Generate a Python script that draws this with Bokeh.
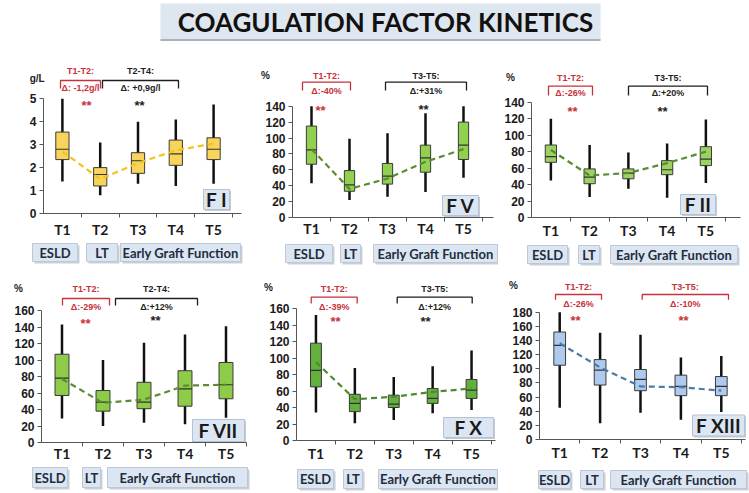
import numpy as np
from bokeh.plotting import figure
from bokeh.models import Range1d, FixedTicker
from bokeh.layouts import column, row
from bokeh.embed import file_html
from bokeh.resources import INLINE
from bokeh.core.properties import value

TITLE = "COAGULATION FACTOR KINETICS"
TIMES = ["T1", "T2", "T3", "T4", "T5"]
GROUPS = ["ESLD", "LT", "Early Graft Function"]

# ---- Factor I (g/L) ----
fI_low = [1.4, 0.8, 1.3, 1.2, 1.3]
fI_q1 = [2.35, 1.2, 1.75, 2.1, 2.35]
fI_med = [2.8, 1.7, 2.3, 2.6, 2.8]
fI_q3 = [3.55, 2.0, 2.65, 3.2, 3.3]
fI_high = [5.0, 3.1, 4.0, 4.1, 4.75]
fI_mean = [2.7, 1.5, 2.2, 2.75, 3.05]

# ---- Factor V (%) ----
fV_low = [43, 22, 26, 32, 50]
fV_q1 = [67, 33, 42, 57, 73]
fV_med = [85, 41, 52, 75, 91]
fV_q3 = [115, 59, 68, 91, 120]
fV_high = [140, 99, 106, 131, 140]
fV_mean = [86, 36, 49, 70, 86]

# ---- Factor II (%) ----
fII_low = [45, 25, 35, 24, 42]
fII_q1 = [67, 41, 47, 52, 63]
fII_med = [74, 49, 54, 58, 71]
fII_q3 = [88, 59, 59, 69, 86]
fII_high = [120, 88, 79, 90, 119]
fII_mean = [82, 51, 54, 66, 80]

# ---- Factor VII (%) ----
fVII_low = [29, 20, 24, 22, 30]
fVII_q1 = [57, 38, 41, 44, 53]
fVII_med = [78, 49, 49, 65, 70]
fVII_q3 = [107, 63, 73, 87, 97]
fVII_high = [143, 100, 121, 131, 141]
fVII_mean = [77, 48, 52, 69, 70]

# ---- Factor X (%) ----
fX_low = [34, 21, 25, 33, 37]
fX_q1 = [65, 35, 40, 45, 51]
fX_med = [85, 45, 44, 51, 61]
fX_q3 = [118, 56, 55, 63, 74]
fX_high = [152, 88, 77, 90, 109]
fX_mean = [95, 50, 53, 59, 63]

# ---- Factor XIII (%) ----
fXIII_low = [45, 23, 38, 28, 39]
fXIII_q1 = [105, 77, 69, 62, 62]
fXIII_med = [133, 98, 85, 75, 75]
fXIII_q3 = [152, 113, 99, 91, 89]
fXIII_high = [180, 151, 148, 116, 118]
fXIII_mean = [136, 102, 75, 74, 69]

RED = "#C8313A"
BLACK = "#1E1E1E"
AX = "#555555"


def make_panel(tag, unit, stats, ymax, ystep, fill, dash, box_w,
               fig_x, fig_y, width, height, axis_x, s, y0, ytop, x_axis_end, standoff,
               ann, comps, groups_px, cat_box, tag_box, unit_xy):
    low, q1, med, q3, high, mean = stats
    ppu = (y0 - ytop) / ymax

    def X(px):
        return 0.5 + (px - axis_x) / s

    def Y(py):
        return (y0 - py) / ppu

    xs = np.arange(1, len(TIMES) + 1)
    p = figure(width=width, height=height,
               x_range=Range1d(X(fig_x), X(fig_x + width)),
               y_range=Range1d(Y(fig_y + height), Y(fig_y)),
               min_border=0, toolbar_location=None, output_backend="svg",
               outline_line_color=None)
    p.grid.visible = False

    xa = p.xaxis[0]
    xa.fixed_location = 0
    xa.bounds = (0.5, x_axis_end)
    xa.ticker = FixedTicker(ticks=[int(v) for v in xs],
                            minor_ticks=[float(v) + 0.5 for v in xs])
    xa.major_label_overrides = {int(v): t for v, t in zip(xs, TIMES)}
    xa.major_tick_line_color = None
    xa.major_tick_out = 0
    xa.major_tick_in = 0
    xa.minor_tick_in = 0
    xa.minor_tick_out = 4
    xa.minor_tick_line_color = AX
    xa.axis_line_color = AX
    xa.major_label_standoff = standoff
    xa.major_label_text_font = "Lato"
    xa.major_label_text_font_style = "bold"
    xa.major_label_text_font_size = "14px"
    xa.major_label_text_color = "#1a1a1a"

    ya = p.yaxis[0]
    ya.fixed_location = 0.5
    nt = int(round(ymax / ystep))
    ya.ticker = FixedTicker(ticks=[ystep * i for i in range(nt + 1)])
    ya.bounds = (0, ymax)
    ya.minor_tick_line_color = None
    ya.major_tick_in = 0
    ya.major_tick_out = 4
    ya.axis_line_color = AX
    ya.major_tick_line_color = AX
    ya.major_label_standoff = 3
    ya.major_label_text_font = "Liberation Sans"
    ya.major_label_text_font_style = "bold"
    ya.major_label_text_font_size = "12px"
    ya.major_label_text_color = "#1a1a1a"

    # unit label
    ux, uy = unit_xy
    p.text([X(ux)], [Y(uy)], text=[unit], text_font=value("Liberation Sans"),
           text_font_style="bold", text_font_size="10px", text_color="#222222",
           text_align="center", text_baseline="middle")

    # box plots
    p.segment(xs, low, xs, high, line_color="#111111", line_width=2.5)
    p.vbar(x=xs, width=box_w, bottom=q1, top=q3, fill_color=fill,
           line_color="#3a3a3a", line_width=1)
    p.segment(xs - box_w / 2, med, xs + box_w / 2, med, line_color="#333333", line_width=1.2)
    p.line(xs, mean, line_color=dash, line_width=2.2, line_dash="6 4")

    # comparison brackets
    text_y, br_top, br_end, delta_y = ann
    for (tl, dl, col, px0, px1, spx, spy) in comps:
        x0, x1 = X(px0), X(px1)
        p.line([x0, x0, x1, x1], [Y(br_end), Y(br_top), Y(br_top), Y(br_end)],
               line_color=col, line_width=1.3)
        xc = (x0 + x1) / 2
        p.text([xc], [Y(text_y)], text=[tl], text_font=value("Liberation Sans"),
               text_font_style="bold", text_font_size="9px", text_color=col,
               text_align="center", text_baseline="middle")
        p.text([xc], [Y(delta_y)], text=[dl], text_font=value("Liberation Sans"),
               text_font_style="bold", text_font_size="9px", text_color=col,
               text_align="center", text_baseline="middle")
        p.text([X(spx)], [Y(spy)], text=["**"], text_font=value("Liberation Sans"),
               text_font_style="bold", text_font_size="13px", text_color=col,
               text_align="center", text_baseline="middle", y_offset=3)

    # factor tag box
    tx, ty, tw, th = tag_box
    p.rect([X(tx + 1.5)], [Y(ty + 1.5)], width=tw, height=th, width_units="screen",
           height_units="screen", fill_color="#C3CBD4", line_color=None)
    p.rect([X(tx)], [Y(ty)], width=tw, height=th, width_units="screen",
           height_units="screen", fill_color="#DCE6F2", line_color="#B4C2D3", line_width=1)
    p.text([X(tx)], [Y(ty)], text=[tag], text_font=value("Lato"), text_font_style="bold",
           text_font_size="19px", text_color="#1a1a1a", text_align="center",
           text_baseline="middle")

    # phase boxes under the time axis
    bt, bb = cat_box
    lefts = [X(a) for a, b in groups_px]
    rights = [X(b) for a, b in groups_px]
    c_sh_l = [X(a + 2) for a, b in groups_px]
    c_sh_r = [X(b + 2) for a, b in groups_px]
    p.quad(left=c_sh_l, right=c_sh_r, top=Y(bt + 2), bottom=Y(bb + 2),
           fill_color="#C9D0D8", line_color=None)
    p.quad(left=lefts, right=rights, top=Y(bt), bottom=Y(bb), fill_color="#DCE6F2",
           line_color="#BCC8D6", line_width=1)
    p.text(x=[(l + r) / 2 for l, r in zip(lefts, rights)], y=[Y((bt + bb) / 2)] * len(GROUPS),
           text=GROUPS, text_font=value("Lato"), text_font_style="bold",
           text_font_size="13px", text_color="#1f2d3d", text_align="center",
           text_baseline="middle")
    return p


# ---- title ----
t = figure(width=749, height=50, x_range=Range1d(0, 749), y_range=Range1d(50, 0),
           x_axis_location=None, y_axis_location=None, min_border=0,
           toolbar_location=None, output_backend="svg", outline_line_color=None)
t.grid.visible = False
t.quad(left=[160], right=[600], top=[3], bottom=[40], fill_color="#DEE6EF", line_color=None)
t.segment([160], [39.5], [600], [39.5], line_color="#A9B3BD", line_width=2)
t.text([385], [21.5], text=[TITLE], text_font=value("Lato"), text_font_style="bold",
       text_font_size="26px", text_color="#111111", text_align="center",
       text_baseline="middle")

R1Y, R1H = 50, 216
R2Y, R2H = 266, 227

p1 = make_panel("F I", "g/L", (fI_low, fI_q1, fI_med, fI_q3, fI_high, fI_mean), 5, 1,
                "#F9D45C", "#F3C317", 0.35,
                0, R1Y, 250, R1H, 43, 37.8, 213, 98.3, 5.75, 3,
                (70, 80, 88, 87),
                [("T1-T2:", "Δ: -1,2g/l", RED, 60, 100, 86, 102),
                 ("T2-T4:", "Δ: +0,9g/l", BLACK, 102, 178, 139, 102)],
                [(32, 77), (86, 117), (120, 240)], (243, 261),
                (216, 199, 26, 20), (36.7, 78))

p2 = make_panel("F V", "%", (fV_low, fV_q1, fV_med, fV_q3, fV_high, fV_mean), 140, 20,
                "#92D050", "#5B8C32", 0.27,
                250, R1Y, 248, R1H, 292, 38, 217, 105.7, 5.8, -2,
                (75.7, 81.7, 90, 90),
                [("T1-T2:", "Δ:-40%", RED, 302, 350, 320, 106.7),
                 ("T3-T5:", "Δ:+31%", BLACK, 385, 466, 423, 105.7)],
                [(285, 332), (340, 360), (373, 497)], (244, 262),
                (460, 205, 36, 20), (265, 75))

p3 = make_panel("F II", "%", (fII_low, fII_q1, fII_med, fII_q3, fII_high, fII_mean), 140, 20,
                "#9ED164", "#5B8C32", 0.29,
                498, R1Y, 251, R1H, 531, 38.75, 217, 101.7, 5.9, 0,
                (77.7, 85.7, 95, 92.7),
                [("T1-T2:", "Δ:-26%", RED, 548, 592, 572, 107.7),
                 ("T3-T5:", "Δ:+20%", BLACK, 628, 707, 662, 107.7)],
                [(527, 567), (578, 599), (610, 737)], (245, 263),
                (697.5, 204, 35, 20), (510, 77))

p4 = make_panel("F VII", "%", (fVII_low, fVII_q1, fVII_med, fVII_q3, fVII_high, fVII_mean),
                160, 20, "#8DCB48", "#5B8C32", 0.34,
                0, R2Y, 256, R2H, 41, 41, 442, 310, 5.5, -2,
                (288, 298, 305, 306.7),
                [("T1-T2:", "Δ:-29%", RED, 62, 109, 85, 320),
                 ("T2-T4:", "Δ:+12%", BLACK, 115, 197, 155, 316.7)],
                [(32, 67), (82, 100), (107, 247)], (467, 487),
                (218, 430, 52, 22), (18, 288))

p5 = make_panel("F X", "%", (fX_low, fX_q1, fX_med, fX_q3, fX_high, fX_mean), 160, 20,
                "#64B03C", "#4E8A2E", 0.28,
                256, R2Y, 242, R2H, 296, 38.9, 440, 308, 5.62, 0,
                (288, 296.7, 303, 306),
                [("T1-T2:", "Δ:-39%", RED, 310.7, 356.7, 335, 318.3),
                 ("T3-T5:", "Δ:+12%", BLACK, 396.7, 471.7, 425, 318.3)],
                [(297, 333), (343, 362), (378, 497)], (469, 488),
                (468, 427, 50, 20), (268, 287))

p6 = make_panel("F XIII", "%", (fXIII_low, fXIII_q1, fXIII_med, fXIII_q3, fXIII_high, fXIII_mean),
                180, 20, "#AECBEE", "#4B7BA6", 0.29,
                498, R2Y, 251, R2H, 539, 40.4, 439, 311.7, 5.6, 0,
                (286.7, 294, 299.3, 303.3),
                [("T1-T2:", "Δ:-26%", RED, 555, 601, 575, 316.7),
                 ("T3-T5:", "Δ:-10%", RED, 641.7, 728, 683, 316.7)],
                [(538, 570), (580, 603), (610, 746)], (470, 488),
                (718, 425, 52, 21), (513, 285))

layout = column(t, row(p1, p2, p3), row(p4, p5, p6))
open("out.html", "w").write(file_html(layout, INLINE))
